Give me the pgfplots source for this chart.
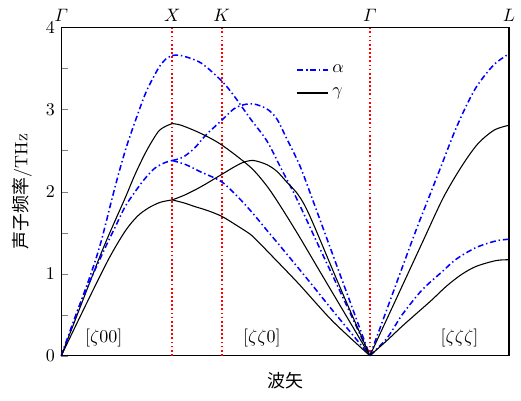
\documentclass[border=0pt]{standalone}
\usepackage{amsmath}
\usepackage{fontspec}
\usepackage{pgfplots}
\pgfplotsset{compat=1.18}
\newfontfamily\cjk{Noto Sans CJK SC}

\tikzset{
  alph/.style={blue, line width=0.85pt, dash pattern={on 3.2pt off 1.6pt on 0.8pt off 1.6pt}, smooth, tension=0.5},
  gam/.style={black, line width=0.6pt, smooth, tension=0.5},
  sym/.style={red, line width=1pt, dash pattern={on 1pt off 1.3pt}},
}

\begin{document}
\begin{tikzpicture}
\begin{axis}[
  scale only axis, width=249pt, height=182.5pt,
  xmin=0, xmax=453, ymin=0, ymax=4,
  clip=false,
  axis line style={line width=0.7pt},
  xtick={0,112.3,162.3,312.3,453},
  xticklabels={$\varGamma$,$X$,$K$,$\varGamma$,$L$},
  xticklabel pos=top,
  x tick style={draw=none},
  ytick={0,1,2,3,4},
  minor y tick num=1,
  ytick pos=left,
  tick align=inside,
  major tick length=3.5pt, minor tick length=3.5pt,
  ylabel={{\cjk 声子频率}/THz},
  xlabel={{\cjk 波矢}},
  ylabel style={at={(axis description cs:-0.088,0.5)}, anchor=center},
  xlabel style={at={(axis description cs:0.5,-0.075)}, anchor=center},
  legend style={draw=none, fill=none, at={(0.513,0.91)}, anchor=north west, row sep=3pt},
  legend cell align=left,
]
% high-symmetry points
\addplot[sym, forget plot] coordinates {(112.3,0) (112.3,4)};
\addplot[sym, forget plot] coordinates {(162.6,0) (162.6,4)};
\addplot[sym, forget plot] coordinates {(312.3,0) (312.3,4)};
% Gamma - X
\addplot[alph] coordinates {(0,0) (15,0.50) (30,1.00) (40,1.38) (51,1.90) (58,2.22) (66,2.55) (76,2.90) (86,3.22) (98,3.50) (106,3.62) (112.3,3.66)};
\addlegendentry{$\alpha$}
\addplot[gam] coordinates {(0,0) (20,0.62) (40,1.24) (52,1.58) (64.5,1.92) (75,2.22) (86.3,2.50) (98,2.73) (106,2.80) (112.3,2.83)};
\addlegendentry{$\gamma$}
\addplot[alph] coordinates {(0,0) (20,0.66) (43,1.28) (55,1.58) (64.7,1.82) (74.7,2.00) (84,2.15) (94,2.28) (104,2.35) (112.3,2.38)};
\addplot[gam] coordinates {(0,0) (24,0.60) (48,1.18) (64.7,1.52) (77,1.70) (88,1.80) (100,1.87) (112.3,1.90)};
% X - K - Gamma
\addplot[alph] coordinates {(112.3,3.66) (121.3,3.66) (141.3,3.57) (162.3,3.35) (174.7,3.17) (191.3,2.89) (208,2.62) (223,2.27) (238,1.92) (260,1.35) (285,0.71) (312.3,0)};
\addplot[alph] coordinates {(112.3,2.38) (123,2.42) (134.7,2.53) (146.3,2.69) (162.3,2.87) (174.7,3.01) (184.7,3.06) (194.7,3.07) (208,3.01) (218,2.89) (228,2.65) (241.3,2.32) (253.8,1.92) (283,0.96) (312.3,0)};
\addplot[alph] coordinates {(112.3,2.38) (126,2.33) (141.3,2.24) (162.3,2.12) (180,1.92) (195,1.72) (208,1.53) (222,1.33) (250,0.92) (274.7,0.55) (312.3,0)};
\addplot[gam] coordinates {(112.3,2.83) (121.3,2.81) (141.3,2.71) (162.3,2.57) (191.3,2.30) (208,2.07) (222,1.82) (240,1.47) (265,0.96) (312.3,0)};
\addplot[gam] coordinates {(112.3,1.90) (125,1.96) (141.3,2.06) (162.3,2.21) (174.7,2.30) (184.7,2.36) (194.7,2.38) (208,2.33) (218,2.25) (228,2.12) (238,1.99) (246,1.84) (256,1.58) (284,0.78) (312.3,0)};
\addplot[gam] coordinates {(112.3,1.90) (125,1.86) (134.7,1.82) (148,1.77) (162.3,1.70) (176,1.60) (191.3,1.48) (200,1.38) (211.3,1.24) (240,0.88) (274.7,0.42) (312.3,0)};
% Gamma - L
\addplot[alph] coordinates {(312.3,0) (340,0.91) (359,1.53) (373,1.96) (384.7,2.32) (398,2.73) (410,3.05) (421.3,3.30) (438,3.55) (453,3.68)};
\addplot[gam] coordinates {(312.3,0) (340,0.72) (365,1.37) (386.3,1.92) (404.7,2.30) (421.3,2.58) (438,2.75) (453,2.81)};
\addplot[alph] coordinates {(312.3,0) (330,0.22) (345,0.50) (365,0.80) (385,1.02) (400,1.18) (420,1.32) (440,1.40) (453,1.42)};
\addplot[gam] coordinates {(312.3,0) (330,0.19) (345,0.36) (360,0.52) (375,0.68) (390,0.85) (405,0.99) (420,1.09) (440,1.16) (453,1.17)};
\node at (axis cs:43,0.21) {$[\zeta00]$};
\node at (axis cs:203,0.21) {$[\zeta\zeta0]$};
\node at (axis cs:403,0.21) {$[\zeta\zeta\zeta]$};
% page frame in the reference's proportions
\path (rel axis cs:-0.137,-0.1355) rectangle (rel axis cs:1.0132,1.0843);
\end{axis}
\end{tikzpicture}
\end{document}
